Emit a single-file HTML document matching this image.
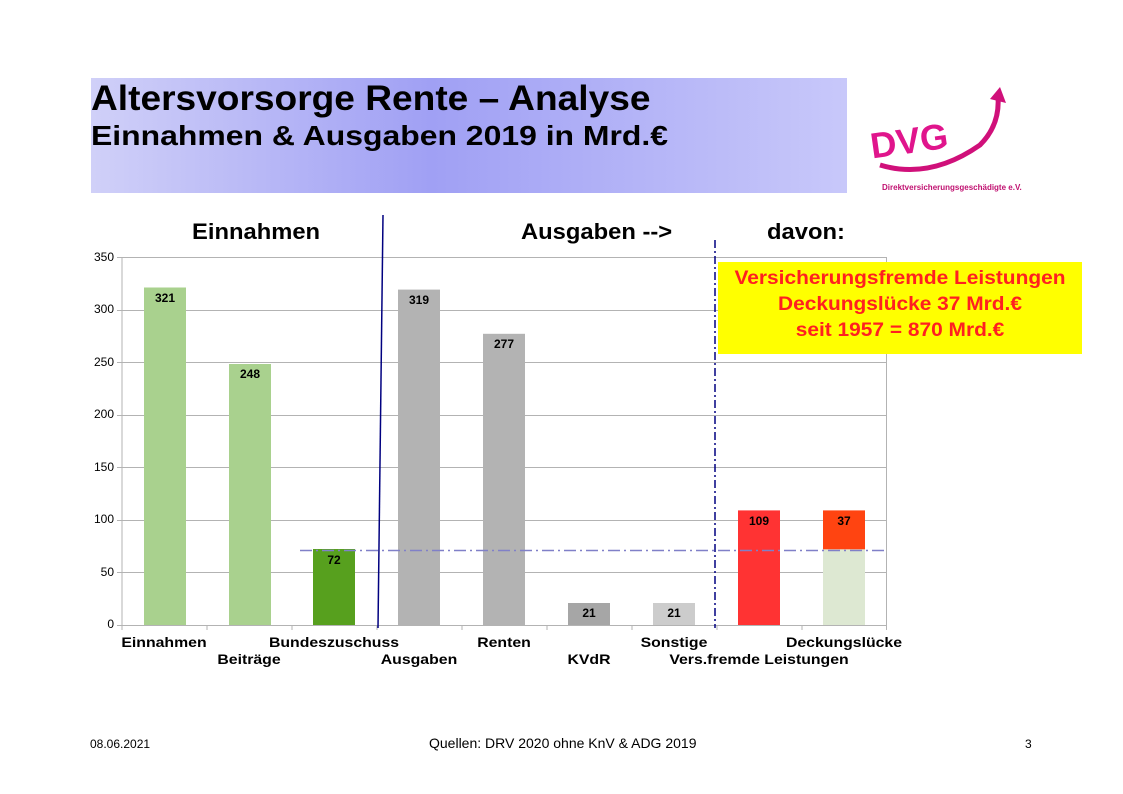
<!DOCTYPE html>
<html><head><meta charset="utf-8"><style>
body{margin:0;background:#fff;font-family:"Liberation Sans",sans-serif;}
.wrap{position:relative;width:1123px;height:794px;overflow:hidden;}
.hdr{position:absolute;left:91px;top:78px;width:756px;height:115px;background:linear-gradient(90deg,#d0d0f8 0%,#a0a0f4 45%,#c8c8fa 100%);}
.t1{position:absolute;left:91px;top:79px;font-size:35px;font-weight:bold;transform-origin:0 0;transform:scaleX(1.06);}
.t2{position:absolute;left:91px;top:120px;font-size:28px;font-weight:bold;transform-origin:0 0;transform:scaleX(1.14);}
.lbl{position:absolute;font-size:14px;font-weight:bold;white-space:nowrap;transform:translateX(-50%) scaleX(1.13);}
.ax{position:absolute;font-size:12px;text-align:right;width:40px;}
.yb{position:absolute;left:718px;top:262px;width:364px;height:92px;background:#ffff00;color:#ff2020;font-weight:bold;font-size:19px;text-align:center;line-height:26px;padding-top:4px;box-sizing:border-box;}
.yb div{transform:scaleX(1.1);}
.foot{position:absolute;top:737px;font-size:13px;}
.sec{position:absolute;top:219px;font-size:22px;font-weight:bold;transform-origin:0 0;transform:scaleX(1.08);}
</style></head><body><div class="wrap">
<div class="hdr"></div>
<div class="t1">Altersvorsorge Rente – Analyse</div>
<div class="t2">Einnahmen &amp; Ausgaben 2019 in Mrd.€</div>
<svg style="position:absolute;left:860px;top:85px" width="220" height="115">
<text x="10" y="68" font-family="Liberation Sans" font-weight="bold" font-size="36" fill="#e0158c" transform="rotate(-8 50 55)">DVG</text>
<path d="M20 80 Q70 95 120 60 Q140 40 138 12" stroke="#d0107a" stroke-width="5" fill="none"/>
<path d="M130 14 L140 2 L146 18 Z" fill="#d0107a"/>
<text x="22" y="105" font-family="Liberation Sans" font-weight="bold" font-size="8" fill="#c01070">Direktversicherungsgeschädigte e.V.</text>
</svg>
<div class="sec" style="left:192px">Einnahmen</div>
<div class="sec" style="left:521px">Ausgaben --&gt;</div>
<div class="sec" style="left:767px">davon:</div>
<svg style="position:absolute;left:0;top:0" width="1123" height="794">
<g stroke="#b3b3b3" stroke-width="1">
<line x1="117" y1="257.5" x2="887" y2="257.5"/><line x1="117" y1="310.5" x2="887" y2="310.5"/><line x1="117" y1="362.5" x2="887" y2="362.5"/><line x1="117" y1="415.5" x2="887" y2="415.5"/><line x1="117" y1="467.5" x2="887" y2="467.5"/><line x1="117" y1="520.5" x2="887" y2="520.5"/><line x1="117" y1="572.5" x2="887" y2="572.5"/>
<line x1="122" y1="257" x2="122" y2="625"/><line x1="886.5" y1="257" x2="886.5" y2="630"/>
<line x1="117" y1="625.5" x2="887" y2="625.5"/>
<line x1="207" y1="625" x2="207" y2="630"/><line x1="292" y1="625" x2="292" y2="630"/><line x1="377" y1="625" x2="377" y2="630"/><line x1="462" y1="625" x2="462" y2="630"/><line x1="547" y1="625" x2="547" y2="630"/><line x1="632" y1="625" x2="632" y2="630"/><line x1="717" y1="625" x2="717" y2="630"/><line x1="802" y1="625" x2="802" y2="630"/><line x1="122" y1="625" x2="122" y2="630"/>
</g>
<rect x="144" y="287.5" width="42" height="337.5" fill="#a9d18e"/>
<rect x="229" y="364" width="42" height="261" fill="#a9d18e"/>
<rect x="313" y="549" width="42" height="76" fill="#57a01e"/>
<rect x="398" y="289.6" width="42" height="335.4" fill="#b3b3b3"/>
<rect x="483" y="333.8" width="42" height="291.2" fill="#b3b3b3"/>
<rect x="568" y="603" width="42" height="22" fill="#a6a6a6"/>
<rect x="653" y="603" width="42" height="22" fill="#cccccc"/>
<rect x="738" y="510.4" width="42" height="114.6" fill="#ff3333"/>
<rect x="823" y="549.3" width="42" height="75.7" fill="#dde8d2"/>
<rect x="823" y="510.4" width="42" height="38.9" fill="#ff4411"/>
<line x1="300" y1="550.5" x2="886" y2="550.5" stroke="#8080c8" stroke-width="1.5" stroke-dasharray="12,4,2,4"/>
<line x1="383" y1="215" x2="378" y2="628" stroke="#000080" stroke-width="1.5"/>
<line x1="715" y1="240" x2="715" y2="628" stroke="#000080" stroke-width="1.5" stroke-dasharray="8,3,2,3"/>
<g font-family="Liberation Sans" font-size="12" font-weight="bold" text-anchor="middle">
<text x="165" y="302">321</text><text x="250" y="378">248</text><text x="334" y="564">72</text><text x="419" y="304">319</text><text x="504" y="348">277</text><text x="589" y="617">21</text><text x="674" y="617">21</text><text x="759" y="525">109</text><text x="844" y="525">37</text>
</g>
</svg>
<div class="ax" style="left:74px;top:250px">350</div>
<div class="ax" style="left:74px;top:302px">300</div>
<div class="ax" style="left:74px;top:355px">250</div>
<div class="ax" style="left:74px;top:407px">200</div>
<div class="ax" style="left:74px;top:460px">150</div>
<div class="ax" style="left:74px;top:512px">100</div>
<div class="ax" style="left:74px;top:565px">50</div>
<div class="ax" style="left:74px;top:617px">0</div>
<div class="lbl" style="left:164px;top:634px">Einnahmen</div>
<div class="lbl" style="left:249px;top:651px">Beiträge</div>
<div class="lbl" style="left:334px;top:634px">Bundeszuschuss</div>
<div class="lbl" style="left:419px;top:651px">Ausgaben</div>
<div class="lbl" style="left:504px;top:634px">Renten</div>
<div class="lbl" style="left:589px;top:651px">KVdR</div>
<div class="lbl" style="left:674px;top:634px">Sonstige</div>
<div class="lbl" style="left:759px;top:651px">Vers.fremde Leistungen</div>
<div class="lbl" style="left:844px;top:634px">Deckungslücke</div>
<div class="yb"><div>Versicherungsfremde Leistungen</div><div>Deckungslücke 37 Mrd.€</div><div>seit 1957 = 870 Mrd.€</div></div>
<div class="foot" style="left:90px;font-size:12px">08.06.2021</div>
<div class="foot" style="left:429px;font-size:14px;top:735px">Quellen: DRV 2020 ohne KnV &amp; ADG 2019</div>
<div class="foot" style="left:1025px;font-size:12px">3</div>
</div></body></html>
